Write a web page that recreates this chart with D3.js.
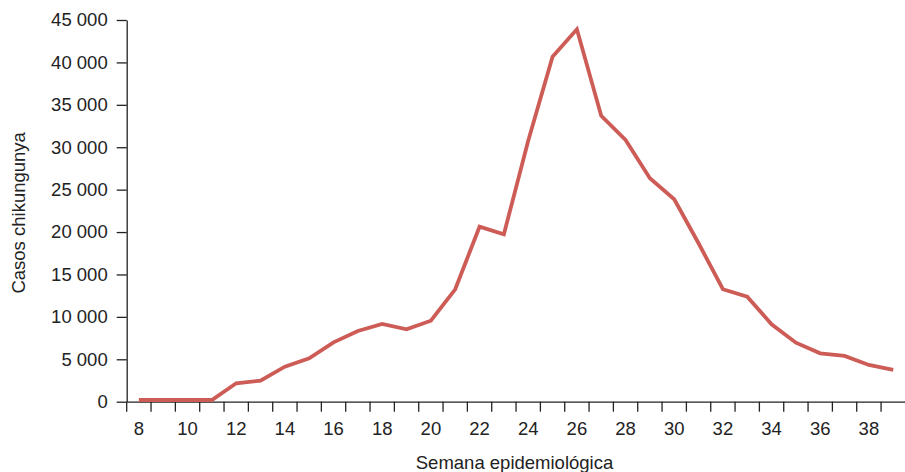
<!DOCTYPE html>
<html>
<head>
<meta charset="utf-8">
<script src="https://cdn.jsdelivr.net/npm/d3@7"></script>
<style>
  html, body { margin: 0; padding: 0; background: #fff; }
  svg { display: block; }
  text { font-family: "Liberation Sans", Arial, Helvetica, sans-serif; fill: #222; }
</style>
</head>
<body>
<svg id="chart" width="905" height="472"></svg>
<script>
const weeks = [8,9,10,11,12,13,14,15,16,17,18,19,20,21,22,23,24,25,26,27,28,29,30,31,32,33,34,35,36,37,38,39];
const cases = [200,200,200,200,2170,2480,4130,5120,7000,8330,9160,8540,9550,13250,20630,19740,30770,40680,43900,33700,30850,26340,23860,18680,13260,12380,9130,6960,5700,5390,4330,3740];
const yTicks = [0,5000,10000,15000,20000,25000,30000,35000,40000,45000];
const xLabelWeeks = [8,10,12,14,16,18,20,22,24,26,28,30,32,34,36,38];
const yTitle = "Casos chikungunya";
const xTitle = "Semana epidemiológica";

(function () {
const svg = d3.select("#chart");
const mLeft = 126.7, mRight = 905.4, mTop = 20, mBottom = 401.7;

const x = d3.scaleBand().domain(weeks).range([mLeft, mRight]).padding(0);
const y = d3.scaleLinear().domain([0, 45000]).range([mBottom, mTop]);

const loc = d3.formatLocale({decimal: ",", thousands: "\u2009", grouping: [3], currency: ["", ""]});
const fmt = v => loc.format(",")(v).replace("\u2009", " ");

// Y axis
const yAxis = svg.append("g").attr("transform", `translate(${mLeft},0)`)
  .call(d3.axisLeft(y).tickValues(yTicks).tickFormat(fmt).tickSize(10).tickSizeOuter(0).tickPadding(9));
yAxis.selectAll("text").style("font-size", "18.5px").style("fill", "#222");
yAxis.selectAll("line,path").attr("stroke", "#222").attr("stroke-width", 1.3);

// X axis (labels at band centres)
const xAxis = svg.append("g").attr("transform", `translate(0,${mBottom})`)
  .call(d3.axisBottom(x).tickValues(xLabelWeeks).tickSize(0).tickSizeOuter(0).tickPadding(20));
xAxis.selectAll("text").style("font-size", "18.5px").style("fill", "#222");
xAxis.select(".domain").attr("stroke", "#222").attr("stroke-width", 1.3);

// X boundary ticks
svg.append("g").selectAll("line").data(weeks).join("line")
  .attr("x1", d => x(d)).attr("x2", d => x(d))
  .attr("y1", mBottom).attr("y2", mBottom + 10)
  .attr("stroke", "#222").attr("stroke-width", 1.3);

// Line
const line = d3.line()
  .x((d, i) => x(weeks[i]) + x.bandwidth() / 2)
  .y(d => y(d));
svg.append("path").datum(cases)
  .attr("d", line)
  .attr("fill", "none")
  .attr("stroke", "#cd5c57")
  .attr("stroke-width", 3.8)
  .attr("stroke-linejoin", "miter")
  .attr("stroke-linecap", "butt");

// Titles
svg.append("text")
  .attr("transform", `translate(25,${(mTop + mBottom) / 2 + 2}) rotate(-90)`)
  .attr("text-anchor", "middle")
  .style("font-size", "18.5px")
  .text(yTitle);

svg.append("text")
  .attr("x", 514.5).attr("y", 469)
  .attr("text-anchor", "middle")
  .style("font-size", "18.5px")
  .text(xTitle);
})();
</script>
</body>
</html>
